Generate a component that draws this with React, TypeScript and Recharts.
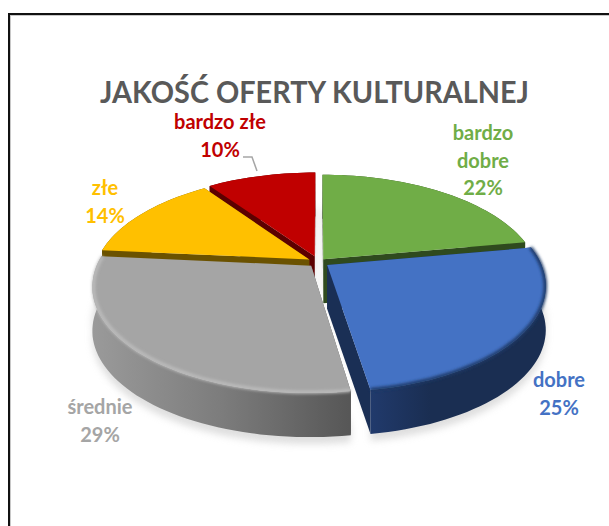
import React from "react";
import { PieChart, Pie } from "recharts";

const categories = ["bardzo dobre", "dobre", "średnie", "złe", "bardzo złe"];
const shares = [22.2, 25.3, 29, 13.7, 9.8];
const labelLines = [["bardzo", "dobre"], ["dobre"], ["średnie"], ["złe"], ["bardzo złe"]];

const topColors = ["#70AD47", "#4472C4", "#A5A5A5", "#FFC000", "#C00000"];
const sideColors = ["#2F4A1E", "#1A2F55", "#555555", "#6B5200", "#5C0000"];
const explode = [0.035, 0.05, 0.05, 0.05, 0.06];
const labelX = [483, 559, 100, 105, 220];
const labelY = [140, 387, 414, 195, 129];

const CX = 318.5;
const CY = 262;
const RADIUS = 213;
const SQUASH = 0.477;
const TILT = 0.19;
const DEPTH = 44;

const chartData = categories.map((name, i) => ({ name, value: shares[i] }));

// 3d look: the library's slice angles go through a small perspective projection
function toPoint(angle: number, mid: number, ex: number, r: number, z = 0, scale = 1) {
  const t = ((90 - angle) * Math.PI) / 180;
  const m = ((90 - mid) * Math.PI) / 180;
  const u = scale * Math.sin(t) + ex * Math.sin(m);
  const v = -scale * Math.cos(t) - ex * Math.cos(m);
  const d = 1 - TILT * v;
  return [CX + (r * u) / d, CY + (r * SQUASH * v) / d + z];
}

function tip(mid: number, ex: number, r: number, z = 0) {
  return toPoint(0, mid, ex, r, z, 0);
}

function arc(p: any, z = 0, scale = 1) {
  const i = categories.indexOf(p.name);
  const mid = (p.startAngle + p.endAngle) / 2;
  const pts: number[][] = [];
  const steps = Math.ceil(Math.abs(p.endAngle - p.startAngle) / 2);
  for (let s = 0; s <= steps; s++) {
    const a = p.startAngle + ((p.endAngle - p.startAngle) * s) / steps;
    pts.push(toPoint(a, mid, explode[i], p.outerRadius, z, scale));
  }
  return pts;
}

const toOpen = (pts: number[][]) =>
  "M" + pts.map((q) => `${q[0].toFixed(1)},${q[1].toFixed(1)}`).join("L");
const toPath = (pts: number[][]) => toOpen(pts) + "Z";

function face(p: any, z = 0) {
  const i = categories.indexOf(p.name);
  const mid = (p.startAngle + p.endAngle) / 2;
  return toPath([tip(mid, explode[i], p.outerRadius, z), ...arc(p, z)]);
}

function ShadowSlice(p: any) {
  return (
    <g filter="url(#soft)" opacity={0.55}>
      <path d={face(p, 35)} fill="#c4c4c4" />
      <path d={toPath([...arc(p, 35), ...arc(p, DEPTH + 7).reverse()])} fill="#c4c4c4" />
    </g>
  );
}

function sideFor(only: number[]) {
  return function SideSlice(p: any) {
    const i = categories.indexOf(p.name);
    if (!only.includes(i)) return <g />;
    const mid = (p.startAngle + p.endAngle) / 2;
    const top = arc(p);
    const low = arc(p, DEPTH);
    const t0 = tip(mid, explode[i], p.outerRadius);
    const t1 = tip(mid, explode[i], p.outerRadius, DEPTH);
    const wallFill = i === 2 ? "url(#wallGray)" : i === 1 ? "url(#wallBlue)" : sideColors[i];
    return (
      <g>
        <path d={toPath([t0, top[0], low[0], t1])} fill={sideColors[i]} />
        <path d={toPath([t0, top[top.length - 1], low[low.length - 1], t1])} fill={sideColors[i]} />
        <path d={toPath([...top, ...low.reverse()])} fill={wallFill} />
      </g>
    );
  };
}

const BackSide = sideFor([4]);
const FrontSide = sideFor([0, 1, 2, 3]);

function TopSlice(p: any) {
  const i = categories.indexOf(p.name);
  return (
    <g>
      <path d={face(p)} fill={topColors[i]} />
      {i === 1 && (
        <path d={toOpen(arc(p, 0, 0.998))} fill="none" stroke="#1F3966" strokeWidth={3.5} filter="url(#rim)" />
      )}
      {i === 2 && (
        <path d={toOpen(arc(p, 0, 0.995))} fill="none" stroke="#BEBEBE" strokeWidth={3} filter="url(#rim)" />
      )}
    </g>
  );
}

function renderLabel(p: any) {
  const i = p.index;
  const lines = [...labelLines[i], `${Math.round(p.percent * 100)}%`];
  return (
    <g key={i}>
      {i === 4 && (
        <polyline points="243,157 252,157 257,171" fill="none" stroke="#A6A6A6" strokeWidth={1.5} />
      )}
      <text
        x={labelX[i]}
        y={labelY[i]}
        textAnchor="middle"
        fontFamily="Lato"
        fontWeight={700}
        fontSize={20}
        fill={topColors[i]}
      >
        {lines.map((l, n) => (
          <tspan key={n} x={labelX[i]} dy={n === 0 ? 0 : 27.5}>
            {l}
          </tspan>
        ))}
      </text>
    </g>
  );
}

const pieProps = {
  data: chartData,
  dataKey: "value",
  nameKey: "name",
  cx: CX,
  cy: CY,
  outerRadius: RADIUS,
  startAngle: 90,
  endAngle: -270,
  stroke: "none",
  isAnimationActive: false,
  rootTabIndex: -1,
};

export default function App() {
  return (
    <div style={{ position: "absolute", left: 0, top: 0, width: 609, height: 526, overflow: "hidden", background: "#fff" }}>
      <div
        style={{
          position: "absolute",
          left: 8,
          top: 13,
          width: 700,
          height: 700,
          border: "2px solid #111",
          boxShadow: "inset 0 0 0 1px #c8c8c8",
        }}
      />
      <div style={{ position: "absolute", left: 0, top: 0 }}>
        <PieChart width={609} height={526} margin={{ top: 0, right: 0, bottom: 0, left: 0 }}>
          <defs>
            <filter id="soft" filterUnits="userSpaceOnUse" x="0" y="0" width="609" height="526">
              <feGaussianBlur stdDeviation="3.5" />
            </filter>
            <filter id="rim" filterUnits="userSpaceOnUse" x="0" y="0" width="609" height="526">
              <feGaussianBlur stdDeviation="1.8" />
            </filter>
            <linearGradient id="wallGray" gradientUnits="userSpaceOnUse" x1="93" y1="0" x2="352" y2="0">
              <stop offset="0" stopColor="#9A9A9A" />
              <stop offset="0.5" stopColor="#7C7C7C" />
              <stop offset="1" stopColor="#565656" />
            </linearGradient>
            <linearGradient id="wallBlue" gradientUnits="userSpaceOnUse" x1="370" y1="0" x2="430" y2="0">
              <stop offset="0" stopColor="#213A6C" />
              <stop offset="1" stopColor="#1A2E52" />
            </linearGradient>
          </defs>
          <text
            x={314.5}
            y={103}
            textAnchor="middle"
            textLength={429}
            lengthAdjust="spacingAndGlyphs"
            fontFamily="Lato"
            fontWeight={700}
            fontSize={31}
            fill="#595959"
          >
            JAKOŚĆ OFERTY KULTURALNEJ
          </text>
          <Pie {...pieProps} shape={ShadowSlice} activeShape={ShadowSlice} inactiveShape={ShadowSlice} />
          <Pie {...pieProps} shape={BackSide} activeShape={BackSide} inactiveShape={BackSide} />
          <Pie {...pieProps} shape={FrontSide} activeShape={FrontSide} inactiveShape={FrontSide} />
          <Pie
            {...pieProps}
            shape={TopSlice}
            activeShape={TopSlice}
            inactiveShape={TopSlice}
            label={renderLabel}
            labelLine={false}
          />
        </PieChart>
      </div>
    </div>
  );
}
